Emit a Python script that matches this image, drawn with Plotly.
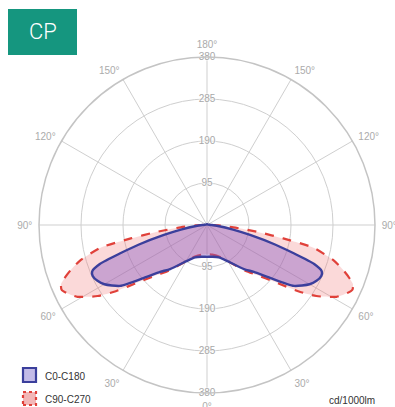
import plotly.graph_objects as go

# ---- data -------------------------------------------------------------
gamma_c0 = [0, 10, 20, 30, 40, 45, 50, 55, 60, 63, 66, 68, 70, 72, 74, 77, 80, 85, 90, 100, 120, 150, 180]
cd_c0 = [72, 73, 78, 95, 130, 150, 186, 240, 268, 278, 283, 280, 258, 205, 160, 100, 60, 25, 10, 4, 2, 2, 2]

gamma_c90 = [0, 10, 20, 30, 40, 45, 50, 54, 57, 61, 64, 66, 68, 70, 72, 74.5, 78, 80, 82, 85, 88, 90, 100, 120, 150, 180]
cd_c90 = [66, 68, 75, 95, 135, 160, 200, 255, 295, 335, 352, 360, 356, 340, 322, 296, 245, 175, 120, 60, 25, 12, 4, 2, 2, 2]

radial_ticks = [95, 190, 285, 380]
angle_ticks = [0, 30, 60, 90, 120, 150, 180, 210, 240, 270, 300, 330]
angle_labels = ["0°", "30°", "60°", "90°", "120°", "150°", "180°", "150°", "120°", "90°", "60°", "30°"]
series_names = ["C0-C180", "C90-C270"]
unit_label = "cd/1000lm"
badge = "CP"

W, H = 395, 407


def px(x):
    return x / W


def py(y):
    return 1 - y / H


def closed(gam, vals):
    th = list(gam) + [360 - g for g in reversed(gam)]
    rr = list(vals) + list(reversed(vals))
    return th, rr


fig = go.Figure()

th, rr = closed(gamma_c90, cd_c90)
fig.add_trace(go.Scatterpolar(
    r=rr, theta=th, mode="lines", fill="toself",
    fillcolor="rgba(240,120,120,0.28)",
    line=dict(color="#e0413a", width=2.2, dash="dash", shape="spline", smoothing=0.6),
    name=series_names[1], showlegend=False, hoverinfo="skip"))

th, rr = closed(gamma_c0, cd_c0)
fig.add_trace(go.Scatterpolar(
    r=rr, theta=th, mode="lines", fill="toself",
    fillcolor="rgba(135,90,195,0.42)",
    line=dict(color="#3b3f9c", width=2.4, shape="spline", smoothing=0.6),
    name=series_names[0], showlegend=False, hoverinfo="skip"))

# radial labels along the vertical axis (top and bottom)
fig.add_trace(go.Scatterpolar(
    r=radial_ticks + radial_ticks,
    theta=[180] * len(radial_ticks) + [0] * len(radial_ticks),
    mode="text", text=[str(v) for v in radial_ticks] * 2,
    textfont=dict(family="Liberation Sans, Arial", size=10, color="#a8a8a8",
                  shadow="0 0 2px white, 0 0 2px white, 0 0 3px white"),
    showlegend=False, hoverinfo="skip"))

fig.update_layout(
    width=W, height=H,
    margin=dict(l=0, r=0, t=0, b=0),
    paper_bgcolor="white",
    polar=dict(
        domain=dict(x=[px(39), px(375)], y=[py(393), py(57)]),
        bgcolor="white",
        angularaxis=dict(
            rotation=270, direction="counterclockwise",
            tickmode="array", tickvals=angle_ticks, ticktext=angle_labels,
            showgrid=True, gridcolor="#cfcfcf", gridwidth=1.3,
            showline=True, linecolor="#c4c4c4", linewidth=1.5,
            ticks="outside", ticklen=4, tickcolor="rgba(0,0,0,0)",
            tickfont=dict(family="Liberation Sans, Arial", size=10, color="#ababab"),
            layer="above traces"),
        radialaxis=dict(
            range=[0, 380], tickmode="array", tickvals=radial_ticks,
            showticklabels=False, ticks="", showline=False,
            showgrid=True, gridcolor="#cfcfcf", gridwidth=1.3),
    ),
)

# badge
fig.add_shape(type="rect", xref="paper", yref="paper",
              x0=px(8), x1=px(77), y0=py(55), y1=py(9),
              fillcolor="#15967f", line=dict(width=0))
fig.add_annotation(x=px(42.5), y=py(32), xref="paper", yref="paper", text=badge,
                   showarrow=False, font=dict(family="Roboto", size=22, color="white", weight=300),
                   xanchor="center", yanchor="middle")

# legend (manual)
fig.add_shape(type="rect", xref="paper", yref="paper",
              x0=px(23), x1=px(36), y0=py(382), y1=py(368),
              fillcolor="rgba(185,175,228,0.85)", line=dict(color="#3b3f9c", width=2.2))
fig.add_shape(type="rect", xref="paper", yref="paper",
              x0=px(23), x1=px(36), y0=py(405), y1=py(392),
              fillcolor="rgba(240,170,170,0.85)", line=dict(color="#e0413a", width=2.2, dash="dot"))
fig.add_annotation(x=px(43), y=py(376), xref="paper", yref="paper", text=series_names[0],
                   showarrow=False, xanchor="left", yanchor="middle",
                   font=dict(family="Liberation Sans, Arial", size=10, color="#333"))
fig.add_annotation(x=px(43), y=py(399), xref="paper", yref="paper", text=series_names[1],
                   showarrow=False, xanchor="left", yanchor="middle",
                   font=dict(family="Liberation Sans, Arial", size=10, color="#333"))
fig.add_annotation(x=px(377), y=py(400), xref="paper", yref="paper", text=unit_label,
                   showarrow=False, xanchor="right", yanchor="middle",
                   font=dict(family="Liberation Sans, Arial", size=10, color="#333"))

fig.write_html("out.html", config={"displayModeBar": False},
               post_script="document.body.style.margin='0';")
